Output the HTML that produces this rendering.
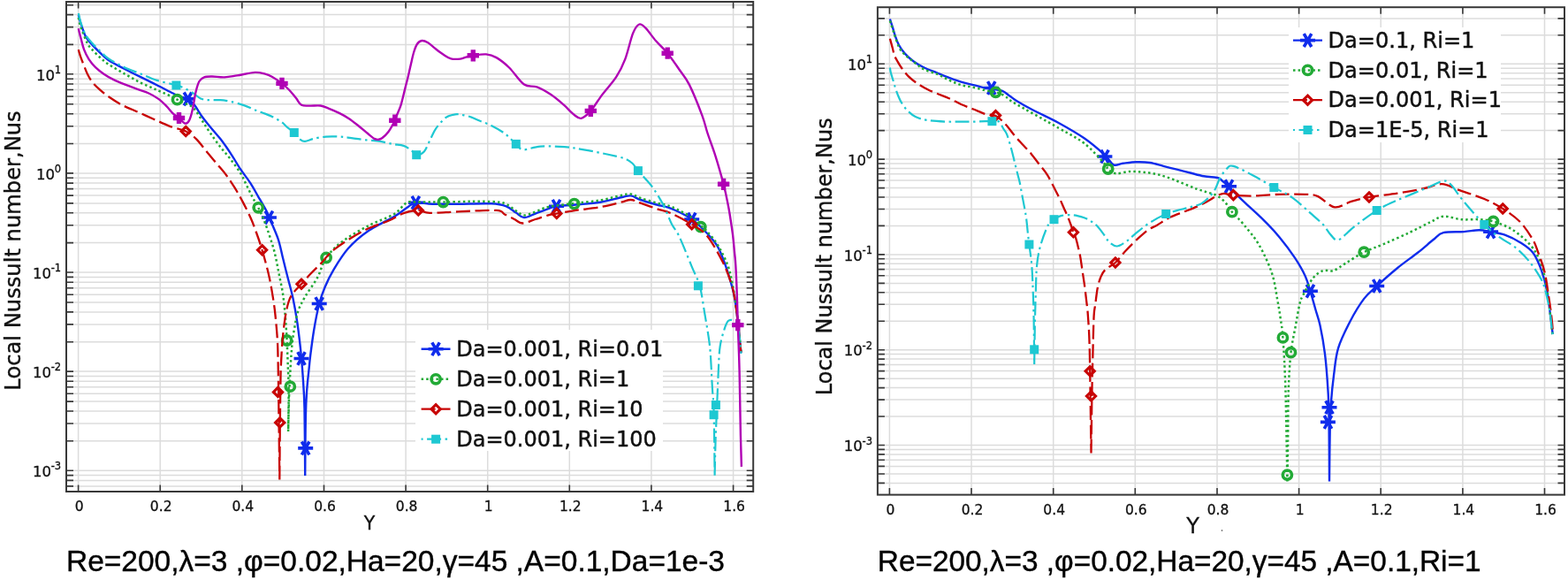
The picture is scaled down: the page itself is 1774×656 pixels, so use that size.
<!DOCTYPE html>
<html><head><meta charset="utf-8"><title>Local Nusselt number plots</title>
<style>html,body{margin:0;padding:0;background:#fff;overflow:hidden}svg{display:block}</style>
</head><body>
<svg width="1774" height="656" viewBox="0 0 1774 656">
<rect width="1774" height="656" fill="#fff"/>
<g stroke="#dcdcdc" stroke-width="1.5"><line x1="75" y1="549.9" x2="852.2" y2="549.9"/><line x1="75" y1="543.4" x2="852.2" y2="543.4"/><line x1="75" y1="537.6" x2="852.2" y2="537.6"/><line x1="75" y1="532.2" x2="852.2" y2="532.2"/><line x1="75" y1="498.8" x2="852.2" y2="498.8"/><line x1="75" y1="479" x2="852.2" y2="479"/><line x1="75" y1="465" x2="852.2" y2="465"/><line x1="75" y1="454.1" x2="852.2" y2="454.1"/><line x1="75" y1="445.3" x2="852.2" y2="445.3"/><line x1="75" y1="437.8" x2="852.2" y2="437.8"/><line x1="75" y1="431.3" x2="852.2" y2="431.3"/><line x1="75" y1="425.5" x2="852.2" y2="425.5"/><line x1="75" y1="420.1" x2="852.2" y2="420.1"/><line x1="75" y1="386.7" x2="852.2" y2="386.7"/><line x1="75" y1="366.9" x2="852.2" y2="366.9"/><line x1="75" y1="352.9" x2="852.2" y2="352.9"/><line x1="75" y1="342" x2="852.2" y2="342"/><line x1="75" y1="333.2" x2="852.2" y2="333.2"/><line x1="75" y1="325.7" x2="852.2" y2="325.7"/><line x1="75" y1="319.2" x2="852.2" y2="319.2"/><line x1="75" y1="313.4" x2="852.2" y2="313.4"/><line x1="75" y1="308" x2="852.2" y2="308"/><line x1="75" y1="274.6" x2="852.2" y2="274.6"/><line x1="75" y1="254.8" x2="852.2" y2="254.8"/><line x1="75" y1="240.8" x2="852.2" y2="240.8"/><line x1="75" y1="229.9" x2="852.2" y2="229.9"/><line x1="75" y1="221.1" x2="852.2" y2="221.1"/><line x1="75" y1="213.6" x2="852.2" y2="213.6"/><line x1="75" y1="207.1" x2="852.2" y2="207.1"/><line x1="75" y1="201.3" x2="852.2" y2="201.3"/><line x1="75" y1="195.9" x2="852.2" y2="195.9"/><line x1="75" y1="162.5" x2="852.2" y2="162.5"/><line x1="75" y1="142.7" x2="852.2" y2="142.7"/><line x1="75" y1="128.7" x2="852.2" y2="128.7"/><line x1="75" y1="117.8" x2="852.2" y2="117.8"/><line x1="75" y1="109" x2="852.2" y2="109"/><line x1="75" y1="101.5" x2="852.2" y2="101.5"/><line x1="75" y1="95" x2="852.2" y2="95"/><line x1="75" y1="89.2" x2="852.2" y2="89.2"/><line x1="75" y1="83.8" x2="852.2" y2="83.8"/><line x1="75" y1="50.4" x2="852.2" y2="50.4"/><line x1="75" y1="30.6" x2="852.2" y2="30.6"/><line x1="75" y1="16.6" x2="852.2" y2="16.6"/><line x1="75" y1="5.7" x2="852.2" y2="5.7"/><line x1="88.6" y1="2" x2="88.6" y2="556"/><line x1="181.2" y1="2" x2="181.2" y2="556"/><line x1="273.8" y1="2" x2="273.8" y2="556"/><line x1="366.5" y1="2" x2="366.5" y2="556"/><line x1="459.1" y1="2" x2="459.1" y2="556"/><line x1="551.7" y1="2" x2="551.7" y2="556"/><line x1="644.3" y1="2" x2="644.3" y2="556"/><line x1="736.9" y1="2" x2="736.9" y2="556"/><line x1="829.6" y1="2" x2="829.6" y2="556"/></g>
<clipPath id="cl"><rect x="75" y="2" width="777.2" height="554"/></clipPath>
<g clip-path="url(#cl)">
<path d="M88.8,17C89.2,18.6 90.1,22.7 91.5,26.8C92.9,30.9 94.9,37.5 97,41.5C99.1,45.5 101.6,47.6 104.3,50.6C107,53.6 110.4,56.9 113.4,59.8C116.5,62.7 118,65 122.6,68C127.2,71 134.8,74.8 140.9,78C147,81.2 153.1,84.2 159.2,87.2C165.3,90.2 171.4,93.2 177.5,96.3C183.6,99.3 191.4,103.4 195.7,105.5C200,107.6 200.3,108 203.1,109.1C205.9,110.2 209.8,110.4 212.5,111.9C215.2,113.4 216.9,115 219.6,118.3C222.3,121.6 225.7,127.8 228.7,132C231.7,136.2 234.4,139.2 237.8,143.4C241.2,147.6 245.5,152.2 249.3,157.1C253.1,162 256.9,167.4 260.7,173.1C264.5,178.8 268.3,185.7 272.1,191.4C275.9,197.1 280.1,202.1 283.5,207.4C286.9,212.7 289.6,218 292.7,223.3C295.8,228.6 299.7,235.2 301.8,239.3C303.9,243.4 303.4,242.9 305.5,248C307.6,253.1 312.1,262.8 314.5,269.8C316.9,276.8 317.8,282.7 319.6,290C321.4,297.3 323.5,305.9 325.5,313.8C327.5,321.7 329.7,328.9 331.5,337.5C333.3,346.1 335.1,356.6 336.4,365.2C337.7,373.8 338.6,382.4 339.4,389C340.2,395.6 340.5,398.9 341,404.9C341.5,410.9 342,415.5 342.6,425C343.2,434.5 344.1,443.2 344.5,462C344.9,480.8 345.1,525.3 345.2,538M345.2,538C345.3,526.7 345.5,486.3 345.9,470C346.2,453.7 346.7,448.4 347.3,440C347.9,431.6 348.6,426.4 349.3,419.9C350,413.4 350.3,408.7 351.3,400.9C352.3,393.1 353.6,382.8 355.2,373.2C356.8,363.6 359.1,351.6 361.2,343.5C363.3,335.4 365,331.1 367.6,324.8C370.2,318.5 372.6,313.1 377,305.8C381.4,298.6 387.1,288.8 393.7,281.3C400.3,273.9 408.2,267.1 416.9,261.1C425.6,255.1 438.6,249.4 445.8,245.1C453,240.8 456.2,237.7 460.3,235C464.4,232.3 465.6,229.9 470.4,229.2C475.2,228.5 481.2,230.4 489.2,230.7C497.2,230.9 507.1,230.8 518.2,230.7C529.3,230.6 546.7,229.9 555.8,230.3C564.9,230.7 568.1,231.6 572.8,233.3C577.5,235 580.4,238.5 583.8,240.6C587.1,242.7 589.2,245.9 592.9,246.1C596.5,246.3 601.1,243.3 605.7,241.6C610.3,239.9 616.4,237.5 620.4,236.1C624.4,234.7 624.3,234.1 629.5,233.3C634.7,232.5 643.3,232.3 651.5,231.5C659.7,230.7 670.4,230.1 678.9,228.7C687.4,227.3 696.9,224.5 702.7,223.3C708.5,222.1 710,221 713.7,221.4C717.4,221.8 719.8,224.3 724.7,226C729.6,227.7 737.1,229.8 743,231.5C748.9,233.2 753.4,233.3 760,236.1C766.6,238.8 776,243.3 782.7,248C789.4,252.7 795.3,258.9 800.1,264C804.9,269.1 808.4,273.1 811.6,278.4C814.8,283.7 816.8,289.4 819.3,296C821.8,302.6 824.6,311.5 826.6,318.3C828.6,325.1 829.7,329 831.1,336.6C832.5,344.2 833.6,353.6 834.8,364C836,374.4 837.8,393.2 838.4,399" stroke="#102cec" stroke-width="2.4" fill="none" stroke-linejoin="round"/>
<path d="M204,111.9L221,111.9M208.2,104.5L216.8,119.3M216.8,104.5L208.2,119.3" stroke="#102cec" stroke-width="3.6" fill="none"/>
<path d="M295.9,246L312.9,246M300.1,238.6L308.6,253.4M308.6,238.6L300.1,253.4" stroke="#102cec" stroke-width="3.6" fill="none"/>
<path d="M332.5,405.5L349.5,405.5M336.8,398.1L345.2,412.9M345.2,398.1L336.8,412.9" stroke="#102cec" stroke-width="3.6" fill="none"/>
<path d="M337.2,506.9L354.2,506.9M341.4,499.5L349.9,514.3M349.9,499.5L341.4,514.3" stroke="#102cec" stroke-width="3.6" fill="none"/>
<path d="M352.7,343.5L369.7,343.5M356.9,336.1L365.4,350.9M365.4,336.1L356.9,350.9" stroke="#102cec" stroke-width="3.6" fill="none"/>
<path d="M461.9,229.2L478.9,229.2M466.1,221.8L474.6,236.6M474.6,221.8L466.1,236.6" stroke="#102cec" stroke-width="3.6" fill="none"/>
<path d="M621,233.3L638,233.3M625.2,225.9L633.8,240.7M633.8,225.9L625.2,240.7" stroke="#102cec" stroke-width="3.6" fill="none"/>
<path d="M774.2,248L791.2,248M778.5,240.6L787,255.4M787,240.6L778.5,255.4" stroke="#102cec" stroke-width="3.6" fill="none"/>
<path d="M88.8,20C89.2,21.8 89.8,26.2 91.5,31C93.2,35.8 96.7,44.6 98.8,48.8C100.9,53 101.9,53.4 104.3,56.1C106.7,58.8 110.4,62.5 113.4,65.2C116.5,68 118,69.5 122.6,72.6C127.2,75.6 134.8,80 140.9,83.5C147,87 153.1,90.5 159.2,93.6C165.3,96.6 171.7,99.2 177.5,101.8C183.3,104.4 190.1,107.3 193.9,109.1C197.7,110.9 197.5,111.2 200.5,112.7C203.5,114.2 208.5,116.3 211.7,118C214.9,119.7 216.8,119.7 219.6,122.8C222.4,125.9 225.7,131.9 228.7,136.5C231.7,141.1 234.4,145.4 237.8,150.3C241.2,155.2 245.5,161.3 249.3,166.2C253.1,171.1 256.9,174.9 260.7,179.9C264.5,184.9 269.1,191 272.1,195.9C275.2,200.8 276.7,205 279,209.6C281.3,214.2 283.6,219.1 285.8,223.3C288,227.5 289.8,230 292.2,234.8C294.6,239.7 297.2,245.1 300,252.4C302.8,259.7 306.8,272.1 308.7,278.4C310.6,284.7 310.5,284.8 311.7,290C312.9,295.2 314.3,303.2 315.6,309.8C316.9,316.4 318.5,323 319.6,329.6C320.7,336.2 321.3,342.8 322,349.4C322.7,356 323.2,363.3 323.6,369.2C324,375.1 324.3,378.2 324.6,385C324.9,391.8 325.3,400.8 325.6,410C325.9,419.2 326.5,427 326.6,440C326.7,453 326.2,480 326.1,488M326.1,488C326.2,481.7 326.6,461.7 327,450C327.4,438.3 327.9,428.2 328.5,418C329.1,407.8 329.7,397.1 330.5,389C331.3,380.9 332.4,375.5 333.5,369.2C334.6,362.9 335.4,357 337.4,351.4C339.4,345.8 341.7,341.8 345.3,335.5C348.9,329.2 355.2,321.1 359.2,313.8C363.2,306.5 364.3,298.4 369.1,291.5C373.9,284.6 379.9,278.7 387.9,272.7C395.9,266.7 407.2,260.4 416.9,255.3C426.5,250.2 438.6,246.5 445.8,242.2C453,237.8 455.5,231.5 460.3,229.2C465.1,226.9 468,228.7 474.8,228.6C481.6,228.5 491.8,228.7 501.4,228.6C511,228.5 522.7,227.9 532.7,227.8C542.7,227.8 554.9,227.8 561.6,228.3C568.3,228.8 569.1,229.3 572.8,231C576.5,232.7 580.4,236.4 583.8,238.5C587.1,240.6 589.2,243.3 592.9,243.5C596.5,243.7 601.1,241.1 605.7,239.5C610.3,237.9 613.1,235.6 620.4,234C627.7,232.4 640,231.2 649.7,230C659.5,228.8 670.1,228 678.9,226.5C687.7,225 696.9,222.2 702.7,221C708.5,219.8 710,219 713.7,219.5C717.4,220 719.8,222.3 724.7,224C729.6,225.7 737.1,227.8 743,229.5C748.9,231.2 753.4,231.2 760,234C766.6,236.8 777.2,242.5 782.7,246C788.2,249.5 789.9,252.3 792.8,255C795.7,257.7 797,258.4 800.1,262C803.2,265.6 807.8,270.2 811.6,276.5C815.5,282.8 820.3,291.9 823.2,299.6C826.1,307.4 827.3,314.3 829,323C830.7,331.7 831.8,339.5 833.4,352C835,364.5 837.6,390.3 838.4,398" stroke="#22aa36" stroke-width="2.5" fill="none" stroke-linejoin="round" stroke-dasharray="2.5 3.1"/>
<circle cx="200.5" cy="112.7" r="5.1" stroke="#22aa36" stroke-width="3.6" fill="none"/>
<circle cx="292.2" cy="234.8" r="5.1" stroke="#22aa36" stroke-width="3.6" fill="none"/>
<circle cx="324.6" cy="385" r="5.1" stroke="#22aa36" stroke-width="3.6" fill="none"/>
<circle cx="328.3" cy="437.2" r="5.1" stroke="#22aa36" stroke-width="3.6" fill="none"/>
<circle cx="369.1" cy="291.5" r="5.1" stroke="#22aa36" stroke-width="3.6" fill="none"/>
<circle cx="501.4" cy="228.6" r="5.1" stroke="#22aa36" stroke-width="3.6" fill="none"/>
<circle cx="649.7" cy="230.6" r="5.1" stroke="#22aa36" stroke-width="3.6" fill="none"/>
<circle cx="792.8" cy="256.7" r="5.1" stroke="#22aa36" stroke-width="3.6" fill="none"/>
<path d="M88.7,56.1C89.2,57.6 90.4,62.2 91.5,65.2C92.6,68.2 93.9,71.4 95.1,74.4C96.3,77.5 97.3,80.5 98.8,83.5C100.3,86.5 101.9,89.7 104.3,92.7C106.7,95.8 110.4,99.1 113.4,101.8C116.5,104.5 118.6,106.3 122.6,109.1C126.6,111.8 131.7,115.4 137.2,118.3C142.7,121.2 149.4,123.8 155.5,126.5C161.6,129.2 167.7,132 173.8,134.7C179.9,137.4 186,140.5 192.1,142.8C198.2,145.1 205.2,146.1 210.2,148.5C215.2,150.9 218.1,153.4 221.9,157.1C225.8,160.8 229.5,166.2 233.3,170.8C237.1,175.4 240.9,179.9 244.7,184.5C248.5,189.1 252.7,193.6 256.1,198.2C259.5,202.8 262.2,206.9 265.3,211.9C268.4,216.9 271.4,222.2 274.4,227.9C277.4,233.6 280.9,240.3 283.5,246.2C286.1,252 287.8,256.9 290,263C292.2,269.1 294.3,275 296.6,282.8C298.9,290.6 302,302 303.8,309.8C305.6,317.6 306.6,323 307.7,329.6C308.8,336.2 309.9,342.8 310.7,349.4C311.5,356 312.1,362.6 312.7,369.2C313.3,375.8 313.8,382.2 314.1,389C314.4,395.8 314.4,399.8 314.6,410C314.8,420.2 314.9,427.9 315.2,450C315.5,472.1 316.1,527.1 316.3,542.5M316.3,542.5C316.4,532.1 316.6,497.1 316.8,480C317,462.9 317.1,450.8 317.3,440C317.5,429.2 317.4,424.2 317.8,415C318.2,405.8 318.8,394.3 319.6,385C320.4,375.7 321.5,366.6 322.6,359.3C323.8,352.1 325,346.1 326.5,341.5C328,336.9 329.1,335 331.5,331.6C333.9,328.2 337.7,324.9 341,321.3C344.3,317.7 347.6,313.7 351.3,309.8C355,305.9 358.6,302.6 363.2,297.9C367.8,293.1 371.2,287.4 379.2,281.3C387.2,275.2 401,266.4 411.1,261.1C421.2,255.8 432.3,252.9 440,249.5C447.7,246.1 451.8,242.7 457.4,240.8C462.9,238.9 468.5,237.9 473.3,237.9C478.1,237.9 478.8,240.6 486.3,240.8C493.8,241.1 505.7,239.9 518.2,239.4C530.8,238.9 552.8,237.4 561.6,237.9C570.4,238.4 567.6,240.8 571,242.5C574.4,244.2 578.6,246.3 582,248C585.4,249.7 587.1,252.5 591.1,252.5C595.1,252.5 600.8,249.5 605.7,248C610.6,246.5 616.4,244.5 620.4,243.4C624.4,242.3 624.3,242.5 629.5,241.6C634.7,240.7 643.3,239.1 651.5,237.9C659.7,236.7 670.4,235.7 678.9,234.2C687.4,232.7 696.9,230.1 702.7,228.7C708.5,227.3 710,225.8 713.7,226C717.4,226.2 719.8,228 724.7,229.7C729.6,231.4 737.1,234.1 743,236.1C748.9,238.1 753.4,238.6 760,241.6C766.6,244.6 776,249.6 782.7,253.8C789.4,258 794.3,259.9 800.1,266.9C805.9,273.9 813,287.2 817.4,295.8C821.8,304.4 824.3,311.5 826.6,318.3C828.9,325.1 829.7,329 831.1,336.6C832.5,344.2 833.6,353.6 834.8,364C836,374.4 837.8,392.9 838.4,398.7" stroke="#c80404" stroke-width="2.3" fill="none" stroke-linejoin="round" stroke-dasharray="16 5.5"/>
<path d="M210.2,143.4l5.1,5.1l-5.1,5.1l-5.1,-5.1z" stroke="#c80404" stroke-width="3.1" fill="none"/>
<path d="M296.6,277.7l5.1,5.1l-5.1,5.1l-5.1,-5.1z" stroke="#c80404" stroke-width="3.1" fill="none"/>
<path d="M314.5,438.3l5.1,5.1l-5.1,5.1l-5.1,-5.1z" stroke="#c80404" stroke-width="3.1" fill="none"/>
<path d="M316.7,472.8l5.1,5.1l-5.1,5.1l-5.1,-5.1z" stroke="#c80404" stroke-width="3.1" fill="none"/>
<path d="M341,316.2l5.1,5.1l-5.1,5.1l-5.1,-5.1z" stroke="#c80404" stroke-width="3.1" fill="none"/>
<path d="M473.3,232.8l5.1,5.1l-5.1,5.1l-5.1,-5.1z" stroke="#c80404" stroke-width="3.1" fill="none"/>
<path d="M629.8,236.3l5.1,5.1l-5.1,5.1l-5.1,-5.1z" stroke="#c80404" stroke-width="3.1" fill="none"/>
<path d="M782.7,248.7l5.1,5.1l-5.1,5.1l-5.1,-5.1z" stroke="#c80404" stroke-width="3.1" fill="none"/>
<path d="M88.8,15C89.2,16.8 90.1,21.8 91.5,25.9C92.9,30 94.9,35.8 97,39.6C99.1,43.4 101.6,45.8 104.3,48.8C107,51.8 110.4,55 113.4,57.9C116.5,60.8 118,63.2 122.6,66.2C127.2,69.2 134.8,73.3 140.9,76.2C147,79.1 153.1,81 159.2,83.5C165.3,86 170.8,88.8 177.5,90.9C184.2,93 194.2,94.8 199.4,96.3C204.6,97.8 205.3,98.1 208.6,99.7C211.9,101.3 216.2,103.8 219.3,105.8C222.4,107.8 224.2,110.3 227,111.5C229.8,112.7 232.3,112.9 236,113.2C239.7,113.5 245.2,112.9 249.3,113.2C253.4,113.5 256.1,113.8 260.7,114.8C265.3,115.8 271.8,117.7 276.7,119.4C281.6,121.1 286.5,123.6 290.4,125.1C294.3,126.6 296.9,127.4 300,128.6C303.1,129.8 306.1,131 309.1,132.5C312.2,134 315.5,135.8 318.3,137.8C321.1,139.8 323.5,142.7 325.9,144.7C328.3,146.7 330.5,147.8 332.8,150C335.1,152.2 337.6,156 339.6,157.7C341.6,159.3 342.4,160 345,159.9C347.6,159.8 351,157.8 354.9,156.9C358.8,156 363.8,155 368.6,154.6C373.4,154.2 379,154.3 383.8,154.6C388.6,154.8 392.5,155.5 397.6,156.1C402.7,156.7 408.9,157.8 414.3,158.4C419.7,159 425,159.1 430,159.9C435,160.7 440,162.2 444.4,163C448.8,163.8 453.2,163.8 456.6,164.9C460.1,166 462.7,168.1 465.1,169.8C467.5,171.5 468.8,174.9 471.2,175.2C473.6,175.5 477.1,174.5 479.8,171.5C482.5,168.5 484.9,161.3 487.1,157C489.3,152.7 490.4,149.4 493.2,145.4C496,141.4 500.5,135.9 504.1,133.2C507.8,130.5 511.8,129.8 515.1,129.3C518.4,128.8 520.7,129.6 523.7,130.1C526.8,130.6 530.7,131.7 533.4,132.6C536.1,133.5 536.3,134 540,135.6C543.7,137.2 550.6,139.3 555.8,141.9C561,144.5 566.3,147.5 571,151C575.7,154.5 580.3,159.8 583.8,162.9C587.3,166 587.4,168.9 592,169.3C596.6,169.8 603.4,166.1 611.2,165.6C619,165.1 630.5,165.6 638.7,166.2C646.9,166.8 652.4,167.9 660.6,169.3C668.8,170.7 680.5,173.1 688.1,174.8C695.7,176.5 701.8,177.6 706.4,179.3C711,181 712.9,182.5 715.5,184.8C718.1,187.1 719.4,190.2 721.9,193.1C724.4,196 727.3,198.8 730.2,202.2C733.1,205.5 735.9,208.3 739.3,213.2C742.6,218.1 746.8,224.8 750.3,231.5C753.8,238.2 757,247.5 760,253.4C763,259.3 764.4,258.9 768.2,266.9C772,274.9 778.8,292.1 782.7,301.6C786.6,311.1 789.4,314.9 791.8,323.8C794.2,332.7 795.8,346 797.3,354.8C798.8,363.6 799.9,369.5 801,376.8C802.1,384.1 802.9,388.4 803.7,398.7C804.5,409 805.2,427.8 805.9,438.9C806.5,450 807.1,448.8 807.6,465.3C808.1,481.8 808.4,525.7 808.6,537.8M808.6,537.8C808.8,531.5 809.1,512.1 809.5,500C809.9,487.9 810.3,479.1 810.9,465.3C811.5,451.5 812.3,429.3 812.9,417C813.5,404.7 813.6,398.7 814.7,391.4C815.8,384.1 817.8,377.8 819.3,373.1C820.8,368.4 822.1,364.9 823.8,363.1C825.5,361.3 827.6,361.8 829.3,362.2C831,362.6 832.7,362.8 833.9,365.8C835.1,368.8 835.8,374.3 836.5,380C837.2,385.7 838.1,396.7 838.4,400" stroke="#1ec8d2" stroke-width="2.2" fill="none" stroke-linejoin="round" stroke-dasharray="16 4.5 2.5 4.5"/>
<rect x="194.4" y="91.5" width="10" height="10" fill="#1ec8d2"/>
<rect x="327.8" y="145" width="10" height="10" fill="#1ec8d2"/>
<rect x="466.2" y="170.2" width="10" height="10" fill="#1ec8d2"/>
<rect x="578.8" y="157.9" width="10" height="10" fill="#1ec8d2"/>
<rect x="716.9" y="188.1" width="10" height="10" fill="#1ec8d2"/>
<rect x="784.9" y="318.3" width="10" height="10" fill="#1ec8d2"/>
<rect x="804.9" y="453" width="10" height="10" fill="#1ec8d2"/>
<rect x="802.6" y="464.2" width="10" height="10" fill="#1ec8d2"/>
<path d="M88.7,32.3C89.2,34.1 90.4,39.3 91.5,43.3C92.6,47.3 93.6,52.1 95.1,56.1C96.6,60.1 98.4,63.7 100.6,67.1C102.8,70.4 105.2,73.5 108,76.2C110.8,78.9 113.8,81.2 117.1,83.5C120.4,85.8 124.1,87.9 128.1,89.9C132.1,91.9 136.3,93.6 140.9,95.4C145.5,97.2 150.9,99.2 155.5,100.9C160.1,102.6 164.3,103.7 168.3,105.5C172.3,107.3 176,109.5 179.3,111.9C182.7,114.3 185.7,117.4 188.4,120.1C191.1,122.8 193.3,126.1 195.7,128.3C198,130.5 200.3,131.6 202.5,133.5C204.7,135.4 207.1,139 209,139.5C210.9,140 212.5,138.9 214,136.3C215.5,133.7 216.6,129.5 217.8,124.1C219.1,118.7 220.2,109.3 221.5,104C222.8,98.7 223.8,94.8 225.4,92C227,89.2 228.6,88.2 231,87.3C233.4,86.4 236.2,86.5 240,86.5C243.8,86.5 249,87.6 253.7,87.4C258.4,87.2 262.4,86.3 268.2,85.4C274,84.5 283.2,82.2 288.5,81.9C293.8,81.6 296.8,82.9 300,83.7C303.2,84.5 304.4,85 307.6,86.8C310.8,88.6 315.7,91.9 319,94.4C322.3,96.9 324.7,99.2 327.4,102C330.1,104.8 332.7,108.3 335,111.1C337.3,113.9 338.4,117.4 341.1,118.8C343.8,120.2 347.4,119.5 351,119.6C354.6,119.7 359.1,119 362.5,119.5C365.9,120 368.1,121.2 371.6,122.6C375.2,124 380,126 383.8,127.9C387.6,129.8 390.7,131.4 394.5,134C398.3,136.6 403.1,140.4 406.7,143.2C410.2,146 413,148.5 415.8,150.8C418.6,153.1 421.5,155.7 423.5,156.9C425.5,158.1 426.6,157.9 428,157.8C429.4,157.7 430.3,157.8 432.2,156.3C434.1,154.8 437.1,152.3 439.5,149C441.9,145.7 445.2,139.4 446.8,136.2C448.4,133 448,133 449.1,130C450.2,127 452.2,123.4 453.7,118.4C455.2,113.4 456.9,105.7 458.3,100.1C459.7,94.5 461,89.7 462.1,84.9C463.2,80.1 464.2,75.5 465.2,71.2C466.2,66.9 467.1,62.6 468.2,59C469.3,55.4 470.5,52 472,49.8C473.5,47.6 475.3,46.2 477.3,46C479.3,45.8 481.8,46.9 484.2,48.3C486.6,49.7 489,52.2 491.8,54.4C494.6,56.6 497.9,59.3 501,61.3C504.1,63.3 506.8,65.4 510.1,66.3C513.4,67.2 517.8,66.9 520.8,66.6C523.8,66.3 526,64.9 528.4,64.3C530.8,63.7 531.7,63.3 535.3,62.8C538.9,62.3 545.6,61 550,61.4C554.4,61.8 557.2,62.6 561.6,65.1C566,67.6 570.9,71.4 576.1,76.5C581.3,81.6 587.8,91.9 593,95.6C598.2,99.2 602.4,96.5 607.5,98.4C612.6,100.3 618.3,103.7 623.4,107.1C628.5,110.5 633.5,114.9 637.9,118.7C642.2,122.5 646.2,127.2 649.5,129.7C652.8,132.2 654.5,134.5 657.6,133.8C660.7,133.1 664.3,129.9 668.3,125.4C672.2,121 676.5,113.5 681.3,107.1C686.1,100.7 692.9,93.7 697.3,86.9C701.6,80.2 704.3,74.8 707.4,66.6C710.5,58.4 713.5,44.1 716.1,37.6C718.8,31.1 720.9,28.4 723.3,27.5C725.7,26.6 727.5,28.8 730.6,31.9C733.7,35 738,41.6 742.1,46.3C746.2,51 750.9,54.9 755.2,60.2C759.6,65.5 764.1,72.3 768.2,78.2C772.3,84.1 775.4,86.9 779.8,95.6C784.1,104.3 790.9,121.2 794.3,130.3C797.7,139.4 798,142.9 800.3,150C802.6,157.1 805.8,165.3 808.3,172.9C810.8,180.5 813.5,189.9 815.2,195.8C816.9,201.7 817.5,203.7 818.6,208.3C819.7,212.9 820.9,217.7 822,223.2C823.1,228.7 824.4,234.6 825.5,241.5C826.6,248.4 827.9,256.8 828.9,264.4C829.9,272 830.6,281.4 831.2,287.3C831.8,293.2 831.8,291.8 832.3,300C832.8,308.2 833.5,325.3 833.9,336.6C834.3,347.9 834.5,358.5 834.8,367.6C835.1,376.7 835.4,382.7 835.7,391.4C836,400.1 836.2,403.3 836.6,420C837,436.7 837.5,473.7 837.9,491.7C838.3,509.7 838.7,521.9 838.9,527.9" stroke="#b000b4" stroke-width="2.4" fill="none" stroke-linejoin="round"/>
<path d="M199.8,126.9h5.4v13.2h-5.4zM195.8,130.8h13.4v5.4h-13.4z" fill="#b000b4"/>
<path d="M316.3,87.8h5.4v13.2h-5.4zM312.3,91.7h13.4v5.4h-13.4z" fill="#b000b4"/>
<path d="M444.1,129.6h5.4v13.2h-5.4zM440.1,133.5h13.4v5.4h-13.4z" fill="#b000b4"/>
<path d="M532.6,56.2h5.4v13.2h-5.4zM528.6,60.1h13.4v5.4h-13.4z" fill="#b000b4"/>
<path d="M665.6,118.8h5.4v13.2h-5.4zM661.6,122.7h13.4v5.4h-13.4z" fill="#b000b4"/>
<path d="M752.5,53.6h5.4v13.2h-5.4zM748.5,57.5h13.4v5.4h-13.4z" fill="#b000b4"/>
<path d="M815.9,201.7h5.4v13.2h-5.4zM811.9,205.6h13.4v5.4h-13.4z" fill="#b000b4"/>
<path d="M832.1,361h5.4v13.2h-5.4zM828.1,364.9h13.4v5.4h-13.4z" fill="#b000b4"/>
</g>
<rect x="470" y="373" width="280" height="137" fill="#fff"/>
<path d="M476.6,394.8H509.5" stroke="#102cec" stroke-width="2.4"/>
<path d="M484.6,394.8L501.6,394.8M488.8,387.4L497.3,402.2M497.3,387.4L488.8,402.2" stroke="#102cec" stroke-width="3.6" fill="none"/>
<text x="516.2" y="403" font-family="DejaVu Sans, sans-serif" font-size="24" fill="#111" stroke="#111" stroke-width="0.45">Da=0.001, Ri=0.01</text>
<path d="M476.6,428.8H509.5" stroke="#22aa36" stroke-width="2.5" stroke-dasharray="2.5 3.1"/>
<circle cx="493.1" cy="428.8" r="5.1" stroke="#22aa36" stroke-width="3.6" fill="none"/>
<text x="516.2" y="436.9" font-family="DejaVu Sans, sans-serif" font-size="24" fill="#111" stroke="#111" stroke-width="0.45">Da=0.001, Ri=1</text>
<path d="M476.6,462.7H509.5" stroke="#c80404" stroke-width="2.3" stroke-dasharray="16 5.5"/>
<path d="M493.1,457.6l5.1,5.1l-5.1,5.1l-5.1,-5.1z" stroke="#c80404" stroke-width="3.1" fill="none"/>
<text x="516.2" y="470.9" font-family="DejaVu Sans, sans-serif" font-size="24" fill="#111" stroke="#111" stroke-width="0.45">Da=0.001, Ri=10</text>
<path d="M476.6,496.7H509.5" stroke="#1ec8d2" stroke-width="2.2" stroke-dasharray="16 4.5 2.5 4.5" stroke-dashoffset="21"/>
<rect x="488.1" y="491.7" width="10" height="10" fill="#1ec8d2"/>
<text x="516.2" y="504.9" font-family="DejaVu Sans, sans-serif" font-size="24" fill="#111" stroke="#111" stroke-width="0.45">Da=0.001, Ri=100</text>
<path d="M75,549.9h8M852.2,549.9h-7.5M75,543.4h8M852.2,543.4h-7.5M75,537.6h8M852.2,537.6h-7.5M75,532.2h8M852.2,532.2h-7.5M75,498.8h8M852.2,498.8h-7.5M75,479h8M852.2,479h-7.5M75,465h8M852.2,465h-7.5M75,454.1h8M852.2,454.1h-7.5M75,445.3h8M852.2,445.3h-7.5M75,437.8h8M852.2,437.8h-7.5M75,431.3h8M852.2,431.3h-7.5M75,425.5h8M852.2,425.5h-7.5M75,420.1h8M852.2,420.1h-7.5M75,386.7h8M852.2,386.7h-7.5M75,366.9h8M852.2,366.9h-7.5M75,352.9h8M852.2,352.9h-7.5M75,342h8M852.2,342h-7.5M75,333.2h8M852.2,333.2h-7.5M75,325.7h8M852.2,325.7h-7.5M75,319.2h8M852.2,319.2h-7.5M75,313.4h8M852.2,313.4h-7.5M75,308h8M852.2,308h-7.5M75,274.6h8M852.2,274.6h-7.5M75,254.8h8M852.2,254.8h-7.5M75,240.8h8M852.2,240.8h-7.5M75,229.9h8M852.2,229.9h-7.5M75,221.1h8M852.2,221.1h-7.5M75,213.6h8M852.2,213.6h-7.5M75,207.1h8M852.2,207.1h-7.5M75,201.3h8M852.2,201.3h-7.5M75,195.9h8M852.2,195.9h-7.5M75,162.5h8M852.2,162.5h-7.5M75,142.7h8M852.2,142.7h-7.5M75,128.7h8M852.2,128.7h-7.5M75,117.8h8M852.2,117.8h-7.5M75,109h8M852.2,109h-7.5M75,101.5h8M852.2,101.5h-7.5M75,95h8M852.2,95h-7.5M75,89.2h8M852.2,89.2h-7.5M75,83.8h8M852.2,83.8h-7.5M75,50.4h8M852.2,50.4h-7.5M75,30.6h8M852.2,30.6h-7.5M75,16.6h8M852.2,16.6h-7.5M75,5.7h8M852.2,5.7h-7.5M88.6,556v-7.5M88.6,2v7.5M181.2,556v-7.5M181.2,2v7.5M273.8,556v-7.5M273.8,2v7.5M366.5,556v-7.5M366.5,2v7.5M459.1,556v-7.5M459.1,2v7.5M551.7,556v-7.5M551.7,2v7.5M644.3,556v-7.5M644.3,2v7.5M736.9,556v-7.5M736.9,2v7.5M829.6,556v-7.5M829.6,2v7.5" stroke="#383838" stroke-width="1.6" fill="none"/>
<rect x="75" y="2" width="777.2" height="554" fill="none" stroke="#383838" stroke-width="2"/>
<g font-family="DejaVu Sans, sans-serif" fill="#111" stroke="#111" stroke-width="0.3"><text x="89.6" y="578" text-anchor="middle" font-size="15.5">0</text><text x="182.2" y="578" text-anchor="middle" font-size="15.5">0.2</text><text x="274.8" y="578" text-anchor="middle" font-size="15.5">0.4</text><text x="367.5" y="578" text-anchor="middle" font-size="15.5">0.6</text><text x="460.1" y="578" text-anchor="middle" font-size="15.5">0.8</text><text x="552.7" y="578" text-anchor="middle" font-size="15.5">1</text><text x="645.3" y="578" text-anchor="middle" font-size="15.5">1.2</text><text x="737.9" y="578" text-anchor="middle" font-size="15.5">1.4</text><text x="830.6" y="578" text-anchor="middle" font-size="15.5">1.6</text><text x="62.1" y="90.5" text-anchor="end" font-size="16.5">10</text><text x="69.2" y="82.8" text-anchor="end" font-size="11.5">1</text><text x="62.1" y="202.6" text-anchor="end" font-size="16.5">10</text><text x="69.2" y="194.9" text-anchor="end" font-size="11.5">0</text><text x="57.9" y="314.7" text-anchor="end" font-size="16.5">10</text><text x="69.2" y="307" text-anchor="end" font-size="11.5">-1</text><text x="57.9" y="426.8" text-anchor="end" font-size="16.5">10</text><text x="69.2" y="419.1" text-anchor="end" font-size="11.5">-2</text><text x="57.9" y="538.9" text-anchor="end" font-size="16.5">10</text><text x="69.2" y="531.2" text-anchor="end" font-size="11.5">-3</text></g>
<text transform="translate(23,283.5) rotate(-90)" text-anchor="middle" font-family="DejaVu Sans, sans-serif" font-size="24.2" fill="#111" stroke="#111" stroke-width="0.4">Local Nussult number,Nus</text>
<text x="418" y="599.2" text-anchor="middle" font-family="DejaVu Sans, sans-serif" font-size="20.5" fill="#111" stroke="#111" stroke-width="0.3">Y</text>
<g stroke="#dcdcdc" stroke-width="1.5"><line x1="992.9" y1="546.4" x2="1770" y2="546.4"/><line x1="992.9" y1="536" x2="1770" y2="536"/><line x1="992.9" y1="527.4" x2="1770" y2="527.4"/><line x1="992.9" y1="520.2" x2="1770" y2="520.2"/><line x1="992.9" y1="513.9" x2="1770" y2="513.9"/><line x1="992.9" y1="508.4" x2="1770" y2="508.4"/><line x1="992.9" y1="503.5" x2="1770" y2="503.5"/><line x1="992.9" y1="471" x2="1770" y2="471"/><line x1="992.9" y1="452.1" x2="1770" y2="452.1"/><line x1="992.9" y1="438.6" x2="1770" y2="438.6"/><line x1="992.9" y1="428.2" x2="1770" y2="428.2"/><line x1="992.9" y1="419.6" x2="1770" y2="419.6"/><line x1="992.9" y1="412.4" x2="1770" y2="412.4"/><line x1="992.9" y1="406.1" x2="1770" y2="406.1"/><line x1="992.9" y1="400.6" x2="1770" y2="400.6"/><line x1="992.9" y1="395.7" x2="1770" y2="395.7"/><line x1="992.9" y1="363.2" x2="1770" y2="363.2"/><line x1="992.9" y1="344.3" x2="1770" y2="344.3"/><line x1="992.9" y1="330.8" x2="1770" y2="330.8"/><line x1="992.9" y1="320.4" x2="1770" y2="320.4"/><line x1="992.9" y1="311.8" x2="1770" y2="311.8"/><line x1="992.9" y1="304.6" x2="1770" y2="304.6"/><line x1="992.9" y1="298.3" x2="1770" y2="298.3"/><line x1="992.9" y1="292.8" x2="1770" y2="292.8"/><line x1="992.9" y1="287.9" x2="1770" y2="287.9"/><line x1="992.9" y1="255.4" x2="1770" y2="255.4"/><line x1="992.9" y1="236.5" x2="1770" y2="236.5"/><line x1="992.9" y1="223" x2="1770" y2="223"/><line x1="992.9" y1="212.6" x2="1770" y2="212.6"/><line x1="992.9" y1="204" x2="1770" y2="204"/><line x1="992.9" y1="196.8" x2="1770" y2="196.8"/><line x1="992.9" y1="190.5" x2="1770" y2="190.5"/><line x1="992.9" y1="185" x2="1770" y2="185"/><line x1="992.9" y1="180.1" x2="1770" y2="180.1"/><line x1="992.9" y1="147.6" x2="1770" y2="147.6"/><line x1="992.9" y1="128.7" x2="1770" y2="128.7"/><line x1="992.9" y1="115.2" x2="1770" y2="115.2"/><line x1="992.9" y1="104.8" x2="1770" y2="104.8"/><line x1="992.9" y1="96.2" x2="1770" y2="96.2"/><line x1="992.9" y1="89" x2="1770" y2="89"/><line x1="992.9" y1="82.7" x2="1770" y2="82.7"/><line x1="992.9" y1="77.2" x2="1770" y2="77.2"/><line x1="992.9" y1="72.3" x2="1770" y2="72.3"/><line x1="992.9" y1="39.8" x2="1770" y2="39.8"/><line x1="992.9" y1="20.9" x2="1770" y2="20.9"/><line x1="1006.4" y1="8.2" x2="1006.4" y2="559.6"/><line x1="1099" y1="8.2" x2="1099" y2="559.6"/><line x1="1191.7" y1="8.2" x2="1191.7" y2="559.6"/><line x1="1284.3" y1="8.2" x2="1284.3" y2="559.6"/><line x1="1377" y1="8.2" x2="1377" y2="559.6"/><line x1="1469.6" y1="8.2" x2="1469.6" y2="559.6"/><line x1="1562.2" y1="8.2" x2="1562.2" y2="559.6"/><line x1="1654.9" y1="8.2" x2="1654.9" y2="559.6"/><line x1="1747.5" y1="8.2" x2="1747.5" y2="559.6"/></g>
<clipPath id="cr"><rect x="992.9" y="8.2" width="777.1" height="551.4"/></clipPath>
<g clip-path="url(#cr)">
<path d="M1006.9,21.5C1007.4,23.1 1008.9,27.7 1009.9,30.9C1010.9,34.1 1011.7,37.5 1012.9,40.8C1014.1,44.1 1015.1,47.4 1016.9,50.7C1018.7,54 1021,57.5 1023.8,60.6C1026.6,63.7 1030.1,66.8 1033.7,69.5C1037.3,72.2 1041.2,74.4 1045.6,76.5C1050,78.6 1055.3,80.4 1060,82.3C1064.7,84.2 1069.1,86.1 1073.7,87.8C1078.3,89.5 1082.8,91.2 1087.4,92.6C1092,94 1096.6,94.9 1101.2,96.1C1105.8,97.2 1111.5,98.8 1114.9,99.5C1118.3,100.2 1118.5,99.9 1121.7,100.5C1124.9,101.1 1130.7,101.6 1134.1,102.9C1137.5,104.2 1139.6,106.6 1142.3,108.4C1145,110.2 1145.6,111.2 1150,113.9C1154.4,116.6 1160.8,120.3 1168.7,124.5C1176.7,128.7 1188.1,133.7 1197.7,139C1207.3,144.3 1217.9,150.3 1226.6,156.3C1235.3,162.3 1244.3,170.2 1249.8,175.2C1255.3,180.2 1256.3,184.7 1259.8,186.3C1263.2,187.9 1266.2,185.3 1270.5,184.8C1274.8,184.3 1280.6,183.4 1285.7,183.3C1290.8,183.2 1295.9,183.2 1301,184C1306.1,184.8 1311.1,186.6 1316.2,187.9C1321.3,189.2 1326.3,190.4 1331.4,191.7C1336.5,193 1341.6,194.2 1346.7,195.5C1351.8,196.8 1357.1,198.4 1361.9,199.3C1366.7,200.2 1372.5,200.3 1375.6,200.8C1378.6,201.3 1377.8,200.6 1380.2,202.3C1382.6,204 1385.3,206.7 1389.8,211C1394.3,215.3 1400.3,221.5 1407.1,227.9C1413.8,234.3 1423.5,242.8 1430.3,249.6C1437.1,256.3 1441.9,261.4 1447.7,268.4C1453.5,275.4 1460.2,284.4 1465,291.6C1469.8,298.9 1473.7,305.6 1476.6,311.9C1479.5,318.2 1480.5,322.9 1482.4,329.2C1484.3,335.5 1486.4,343 1488.2,349.5C1490,356 1491.7,359.5 1493.5,368C1495.3,376.5 1497.5,388.2 1499,400.3C1500.5,412.4 1501.7,429 1502.4,440.6C1503.2,452.2 1503.2,452.7 1503.5,470C1503.8,487.3 1503.9,532.1 1504,544.5M1504,544.5C1504.1,533.8 1504.5,494.5 1504.8,480C1505.1,465.5 1505,466.7 1505.7,457.3C1506.4,447.9 1507.7,434.4 1509.1,423.8C1510.5,413.2 1511,403.7 1514.1,393.6C1517.2,383.6 1522.7,372.8 1527.5,363.5C1532.3,354.2 1538.2,344.6 1543.2,337.9C1548.2,331.2 1551.4,329.3 1557.7,323.5C1564,317.7 1573.2,309.5 1580.9,303.2C1588.6,296.9 1597.2,291.1 1604,285.8C1610.8,280.5 1616.6,275.1 1621.4,271.3C1626.2,267.5 1627.2,264.7 1633,263.2C1638.8,261.7 1649.3,262.6 1656.1,262.1C1662.8,261.6 1668.4,260.3 1673.5,260.3C1678.6,260.3 1681.8,261.2 1686.6,262.1C1691.4,263 1697,263.6 1702.5,265.6C1708,267.6 1714.6,270.8 1719.9,274.2C1725.2,277.6 1730.3,280.6 1734.3,285.8C1738.3,291 1741.2,298.3 1743.9,305.6C1746.6,312.9 1748.5,319.9 1750.3,329.4C1752.1,338.8 1753.7,354.2 1754.8,362.3C1755.9,370.4 1756.4,375.4 1756.7,378" stroke="#102cec" stroke-width="2.4" fill="none" stroke-linejoin="round"/>
<path d="M1113.2,99.5L1130.2,99.5M1117.5,92.1L1126,106.9M1126,92.1L1117.5,106.9" stroke="#102cec" stroke-width="3.6" fill="none"/>
<path d="M1241.4,177L1258.4,177M1245.7,169.6L1254.2,184.4M1254.2,169.6L1245.7,184.4" stroke="#102cec" stroke-width="3.6" fill="none"/>
<path d="M1382,210.7L1399,210.7M1386.2,203.3L1394.8,218.1M1394.8,203.3L1386.2,218.1" stroke="#102cec" stroke-width="3.6" fill="none"/>
<path d="M1473.9,329.2L1490.9,329.2M1478.2,321.8L1486.7,336.6M1486.7,321.8L1478.2,336.6" stroke="#102cec" stroke-width="3.6" fill="none"/>
<path d="M1495.5,460.7L1512.5,460.7M1499.8,453.3L1508.2,468.1M1508.2,453.3L1499.8,468.1" stroke="#102cec" stroke-width="3.6" fill="none"/>
<path d="M1493.9,477.4L1510.9,477.4M1498.2,470L1506.7,484.8M1506.7,470L1498.2,484.8" stroke="#102cec" stroke-width="3.6" fill="none"/>
<path d="M1549.2,323.5L1566.2,323.5M1553.5,316.1L1562,330.9M1562,316.1L1553.5,330.9" stroke="#102cec" stroke-width="3.6" fill="none"/>
<path d="M1678.1,262.1L1695.1,262.1M1682.3,254.7L1690.8,269.5M1690.8,254.7L1682.3,269.5" stroke="#102cec" stroke-width="3.6" fill="none"/>
<path d="M1006.9,23.5C1007.7,26.1 1010.1,33.6 1011.9,38.8C1013.7,44 1015.5,50.6 1017.8,54.7C1020.1,58.8 1022.8,60.8 1025.8,63.6C1028.8,66.4 1032.4,69 1035.7,71.5C1039,74 1041.5,76.5 1045.6,78.5C1049.6,80.5 1055.3,81.7 1060,83.7C1064.7,85.7 1069.1,88.5 1073.7,90.6C1078.3,92.7 1082.8,94.7 1087.4,96.1C1092,97.5 1096.6,97.8 1101.2,98.8C1105.8,99.8 1110.7,101.3 1114.9,102.2C1119.1,103.1 1122.8,103.3 1126.5,104.3C1130.2,105.3 1133.2,106.4 1136.8,108.4C1140.3,110.5 1137.6,110.5 1147.8,116.6C1158,122.7 1184.6,137.2 1197.7,144.8C1210.8,152.4 1217.9,155.3 1226.6,162.1C1235.3,168.8 1245.3,180.4 1249.8,185.3C1254.3,190.2 1251.5,189.9 1253.7,191.7C1255.9,193.5 1258.8,195.8 1262.9,196.2C1267,196.6 1273,194.2 1278.1,194C1283.2,193.8 1288.2,194.2 1293.3,194.7C1298.4,195.2 1303.5,195.8 1308.6,197C1313.7,198.2 1318.7,199.8 1323.8,201.6C1328.9,203.4 1333.9,205.7 1339,207.7C1344.1,209.7 1349.7,212.2 1354.3,213.8C1358.9,215.5 1362.7,216.3 1366.5,217.6C1370.3,218.9 1373.8,219.5 1377.1,221.4C1380.4,223.3 1383.5,225.9 1386.3,229C1389.1,232.1 1390.4,235.5 1393.9,239.7C1397.4,243.9 1402,247.8 1407.1,254C1412.2,260.2 1419.2,267.9 1424.5,277.1C1429.8,286.3 1435.5,298.5 1439,309C1442.5,319.5 1443.8,331.5 1445.4,340C1447,348.5 1447.7,353.1 1448.7,360.1C1449.7,367.1 1450.5,368.5 1451.4,381.9C1452.4,395.3 1453.6,413.5 1454.4,440.6C1455.2,467.7 1456.1,527.2 1456.4,544.5M1456.4,544.5C1456.5,537.1 1456.9,517.3 1457.1,500C1457.3,482.7 1457.2,457.5 1457.8,440.6C1458.4,423.7 1459.2,410.4 1460.5,398.7C1461.8,387 1463.8,379.4 1465.5,370.2C1467.2,361 1469.1,349.3 1470.5,343.4C1471.9,337.5 1471.2,339.8 1473.7,335C1476.2,330.2 1481.4,319.6 1485.3,314.8C1489.2,310 1493,307.6 1496.9,306.1C1500.8,304.7 1504.2,307.6 1508.5,306.1C1512.8,304.7 1517.2,300.9 1523,297.4C1528.8,293.9 1536,288.8 1543.2,285.2C1550.4,281.6 1557.7,279.4 1566.4,275.7C1575.1,271.9 1586.6,266.8 1595.3,262.7C1604,258.6 1612.2,254.1 1618.5,251.1C1624.8,248.1 1627.2,245.2 1633,244.7C1638.8,244.2 1646.5,247.6 1653.3,248.2C1660,248.8 1667.5,247.8 1673.5,248.2C1679.5,248.6 1683.2,248.6 1689.5,250.5C1695.8,252.4 1704.2,255.4 1711.2,259.8C1718.2,264.2 1726.3,271.3 1731.4,277.1C1736.5,282.9 1739.2,288.3 1742,294.6C1744.8,300.9 1746.2,306.8 1748,315C1749.8,323.2 1751.1,333.2 1752.5,343.7C1753.9,354.2 1755.8,372.3 1756.5,378" stroke="#22aa36" stroke-width="2.5" fill="none" stroke-linejoin="round" stroke-dasharray="2.5 3.1"/>
<circle cx="1126.5" cy="104.3" r="5.1" stroke="#22aa36" stroke-width="3.6" fill="none"/>
<circle cx="1253.7" cy="191" r="5.1" stroke="#22aa36" stroke-width="3.6" fill="none"/>
<circle cx="1393.9" cy="239.7" r="5.1" stroke="#22aa36" stroke-width="3.6" fill="none"/>
<circle cx="1451.4" cy="381.9" r="5.1" stroke="#22aa36" stroke-width="3.6" fill="none"/>
<circle cx="1460.5" cy="398.7" r="5.1" stroke="#22aa36" stroke-width="3.6" fill="none"/>
<circle cx="1456.4" cy="537.1" r="5.1" stroke="#22aa36" stroke-width="3.6" fill="none"/>
<circle cx="1543.2" cy="285.2" r="5.1" stroke="#22aa36" stroke-width="3.6" fill="none"/>
<circle cx="1689.5" cy="250.5" r="5.1" stroke="#22aa36" stroke-width="3.6" fill="none"/>
<path d="M1006.9,43.8C1007.4,45.6 1009.1,51.6 1009.9,54.7C1010.7,57.8 1011.1,60.3 1011.9,62.6C1012.7,64.9 1013.6,66.2 1014.9,68.5C1016.2,70.8 1017.6,73.5 1019.8,76.5C1021.9,79.5 1024.8,83.4 1027.8,86.4C1030.8,89.4 1034.1,91.8 1037.7,94.3C1041.3,96.8 1045.9,99.4 1049.6,101.3C1053.3,103.2 1056,104 1060,105.7C1064,107.4 1069.1,109.2 1073.7,111.2C1078.3,113.2 1082.8,116 1087.4,118C1092,120 1096.6,121.7 1101.2,123.5C1105.8,125.3 1110.7,127.8 1114.9,129C1119.1,130.2 1122.7,129 1126.5,131C1130.3,133 1134.4,137.2 1138,141C1141.6,144.8 1145.1,150.1 1148.3,153.8C1151.5,157.6 1154,160.2 1157,163.5C1160,166.8 1163.5,170.2 1166.6,173.9C1169.7,177.6 1172.5,181.6 1175.5,185.5C1178.5,189.4 1181.7,192.7 1184.8,197.6C1187.9,202.5 1191.6,210.4 1194,215C1196.4,219.6 1197.5,221.7 1199.1,225C1200.7,228.3 1201.9,231.4 1203.4,234.8C1204.9,238.2 1206.9,242.2 1208.3,245.7C1209.7,249.1 1211,252.7 1212,255.5C1213,258.4 1213.5,260.4 1214.4,262.8C1215.3,265.2 1216.5,267.2 1217.4,270.1C1218.3,273 1219.1,276.4 1219.9,279.9C1220.7,283.4 1221.6,287 1222.3,290.9C1223,294.8 1223.4,298.1 1224.1,303C1224.8,307.9 1225.8,314.1 1226.7,320.4C1227.6,326.7 1228.5,334.5 1229.2,340.6C1229.9,346.8 1230.3,347.9 1230.9,357.3C1231.5,366.7 1232.2,371.1 1232.8,397C1233.4,422.9 1234.2,493.3 1234.5,512.6M1234.5,512.6C1234.7,500.5 1235.2,459.3 1235.5,440C1235.8,420.7 1236.2,410.8 1236.5,397C1236.8,383.2 1237.1,366.2 1237.6,357.3C1238.1,348.4 1238.6,349.2 1239.3,343.9C1240,338.6 1240.8,330.5 1241.8,325.5C1242.8,320.5 1243.8,317.1 1245.2,313.7C1246.6,310.3 1247.4,308.1 1250.2,305.3C1253,302.5 1258,300.6 1261.9,297C1265.8,293.4 1269.5,288 1273.7,283.5C1277.9,279 1282.9,274 1287.1,270.1C1291.3,266.2 1295.2,262.6 1298.8,260.1C1302.4,257.6 1304.4,257.3 1308.6,254.9C1312.8,252.5 1318.7,248.3 1323.8,245.8C1328.9,243.3 1333.9,241.7 1339,239.7C1344.1,237.7 1349.7,235.6 1354.3,233.6C1358.9,231.6 1362.7,229.5 1366.5,227.5C1370.3,225.5 1374,222.8 1377.1,221.4C1380.1,220 1381.7,218.9 1384.8,218.8C1387.9,218.7 1389.9,220.4 1395.6,220.8C1401.2,221.2 1410,221.7 1418.7,221.5C1427.4,221.3 1438.1,220.1 1447.7,219.8C1457.3,219.5 1469.4,219.4 1476.6,219.8C1483.8,220.2 1485.5,219.7 1491.1,222.1C1496.6,224.5 1503.6,233.3 1509.9,234.3C1516.2,235.3 1522.2,229.8 1528.7,227.9C1535.2,226 1540.3,224.6 1549,223C1557.7,221.4 1570.8,220.2 1580.9,218.6C1591,217 1601.4,215.1 1609.8,213.4C1618.2,211.7 1624.7,207.9 1631.5,208.2C1638.3,208.4 1642.4,212.1 1650.4,214.9C1658.4,217.7 1671,221.5 1679.3,225C1687.6,228.5 1693.4,231.7 1700.2,236C1707,240.3 1714.2,245.2 1719.9,251.1C1725.6,257 1730.9,265.6 1734.3,271.3C1737.7,277 1738,279.5 1740.2,285.5C1742.4,291.5 1745.5,299.2 1747.5,307.4C1749.5,315.6 1750.7,325.6 1752.1,334.8C1753.5,344 1755,355.1 1755.8,362.3C1756.6,369.5 1756.8,375.4 1757,378" stroke="#c80404" stroke-width="2.3" fill="none" stroke-linejoin="round" stroke-dasharray="16 5.5"/>
<path d="M1126.5,125.5l5.1,5.1l-5.1,5.1l-5.1,-5.1z" stroke="#c80404" stroke-width="3.1" fill="none"/>
<path d="M1214.4,257.7l5.1,5.1l-5.1,5.1l-5.1,-5.1z" stroke="#c80404" stroke-width="3.1" fill="none"/>
<path d="M1233.2,414.7l5.1,5.1l-5.1,5.1l-5.1,-5.1z" stroke="#c80404" stroke-width="3.1" fill="none"/>
<path d="M1234.5,442.9l5.1,5.1l-5.1,5.1l-5.1,-5.1z" stroke="#c80404" stroke-width="3.1" fill="none"/>
<path d="M1261.9,291.9l5.1,5.1l-5.1,5.1l-5.1,-5.1z" stroke="#c80404" stroke-width="3.1" fill="none"/>
<path d="M1395.4,215.5l5.1,5.1l-5.1,5.1l-5.1,-5.1z" stroke="#c80404" stroke-width="3.1" fill="none"/>
<path d="M1549,217.9l5.1,5.1l-5.1,5.1l-5.1,-5.1z" stroke="#c80404" stroke-width="3.1" fill="none"/>
<path d="M1700.2,230.9l5.1,5.1l-5.1,5.1l-5.1,-5.1z" stroke="#c80404" stroke-width="3.1" fill="none"/>
<path d="M1006.9,76.5C1007.1,77.5 1007.2,79.8 1007.9,82.4C1008.6,85 1009.9,89 1010.9,92.3C1011.9,95.6 1012.6,98.7 1013.9,102.3C1015.2,105.9 1016.8,110.5 1018.8,114.1C1020.8,117.7 1023,121.1 1025.8,124.1C1028.6,127.1 1031.7,130 1035.7,132C1039.7,134 1044,135.1 1049.6,136C1055.2,136.9 1063.1,137.3 1069.4,137.6C1075.7,137.9 1082.1,137.6 1087.4,137.6C1092.7,137.6 1096.6,137.7 1101.2,137.6C1105.8,137.5 1111.4,137.3 1114.9,137.2C1118.4,137.1 1119.9,137.1 1122.4,137.2C1124.9,137.2 1127.8,136 1130,137.5C1132.2,139 1134,143.6 1135.5,146C1137,148.4 1137.7,148.5 1139.1,151.9C1140.5,155.3 1142.3,161.7 1143.7,166.6C1145.1,171.5 1146.2,176.3 1147.4,181.2C1148.6,186.1 1149.9,191.5 1151,195.8C1152.1,200.1 1152.9,202.5 1153.8,206.8C1154.7,211.1 1155.6,216.5 1156.5,221.4C1157.4,226.3 1158.5,231.7 1159.3,236C1160.1,240.3 1160.5,242.7 1161.1,247C1161.7,251.3 1162.2,257.1 1162.7,262C1163.2,266.9 1163.6,270.1 1164.4,276.5C1165.2,282.9 1166.6,291.5 1167.3,300.3C1168,309.1 1168.3,319.2 1168.7,329.2C1169.1,339.1 1169.3,346.2 1169.6,360C1169.8,373.8 1170.1,403.4 1170.2,412.1M1170.2,412.1C1170.3,403.4 1170.7,373.3 1171,360C1171.3,346.7 1171.5,342.1 1171.8,332.1C1172.1,322.2 1172.2,309.5 1173.1,300.3C1174,291.1 1175.2,284.8 1177.4,277.1C1179.6,269.4 1183.6,258.8 1186.1,254C1188.6,249.2 1190,249.9 1192.5,248.2C1195,246.5 1197.3,244.7 1201,243.9C1204.7,243.1 1210.1,242.9 1214.4,243.3C1218.7,243.7 1223.3,245.2 1226.6,246.3C1229.8,247.4 1231.5,248.5 1233.9,250C1236.3,251.5 1238.6,252.8 1241.2,255.5C1243.8,258.2 1247.5,263.4 1249.8,266.5C1252.1,269.6 1252.7,272 1255,274C1257.3,276 1260.5,278.6 1263.6,278.5C1266.7,278.4 1270.3,275.7 1273.7,273.5C1277.1,271.3 1279.9,268.2 1283.7,265.1C1287.5,262 1292.2,257.9 1296.4,254.9C1300.6,251.9 1304.8,249.5 1308.6,247.3C1312.4,245.2 1315.4,243.5 1319.2,242C1323,240.5 1326.8,239.4 1331.4,238.1C1336,236.8 1342.1,235.6 1346.7,234.3C1351.3,233 1355.6,232.2 1358.9,230.5C1362.2,228.8 1364,226.9 1366.5,224.4C1369,221.9 1371.8,219.1 1374.1,215.3C1376.4,211.5 1377.9,205.7 1380.2,201.6C1382.5,197.5 1385.3,193.2 1387.8,190.9C1390.3,188.6 1390.2,186.6 1395.4,187.9C1400.6,189.2 1411.1,195 1418.7,199C1426.3,203 1434,207.9 1441.3,212C1448.5,216.1 1455.3,218.8 1462.2,223.6C1469.1,228.4 1476.6,235.8 1482.4,240.9C1488.2,246 1493,249.9 1496.9,254C1500.8,258.1 1502.7,262.7 1505.6,265.6C1508.5,268.5 1510,272.8 1514.3,271.3C1518.6,269.9 1524.4,262.4 1531.6,256.9C1538.8,251.3 1549.5,243.1 1557.7,238C1565.9,232.9 1571.2,230.8 1580.9,226.5C1590.6,222.2 1606.9,215.6 1615.6,212C1624.3,208.4 1628.7,205.2 1633,204.7C1637.3,204.2 1637.9,205.2 1641.7,209.1C1645.5,213 1649.8,220.4 1656.1,227.9C1662.4,235.4 1672.5,247.2 1679.3,254C1686.1,260.8 1690.8,264.1 1696.7,268.4C1702.6,272.7 1709.2,275.6 1714.6,280C1720,284.4 1724.7,289.1 1729.3,294.6C1733.9,300.1 1739,307.7 1742,312.9C1745,318.1 1745.7,319.6 1747.5,325.7C1749.3,331.8 1751.6,341.9 1753,349.5C1754.4,357.1 1755.2,366.6 1755.8,371.4C1756.4,376.1 1756.5,376.9 1756.7,378" stroke="#1ec8d2" stroke-width="2.2" fill="none" stroke-linejoin="round" stroke-dasharray="16 4.5 2.5 4.5"/>
<rect x="1117.4" y="132.2" width="10" height="10" fill="#1ec8d2"/>
<rect x="1159.4" y="271.5" width="10" height="10" fill="#1ec8d2"/>
<rect x="1165.2" y="390.3" width="10" height="10" fill="#1ec8d2"/>
<rect x="1187.5" y="243.2" width="10" height="10" fill="#1ec8d2"/>
<rect x="1314.2" y="237" width="10" height="10" fill="#1ec8d2"/>
<rect x="1436.3" y="207" width="10" height="10" fill="#1ec8d2"/>
<rect x="1552.7" y="233" width="10" height="10" fill="#1ec8d2"/>
<rect x="1674.3" y="249" width="10" height="10" fill="#1ec8d2"/>
</g>
<rect x="1458" y="31" width="240" height="130" fill="#fff"/>
<path d="M1463,45.6H1496" stroke="#102cec" stroke-width="2.4"/>
<path d="M1471,45.6L1488,45.6M1475.2,38.2L1483.8,53M1483.8,38.2L1475.2,53" stroke="#102cec" stroke-width="3.6" fill="none"/>
<text x="1502.6" y="53.8" font-family="DejaVu Sans, sans-serif" font-size="24.05" fill="#111" stroke="#111" stroke-width="0.45">Da=0.1, Ri=1</text>
<path d="M1463,79.4H1496" stroke="#22aa36" stroke-width="2.5" stroke-dasharray="2.5 3.1"/>
<circle cx="1479.5" cy="79.4" r="5.1" stroke="#22aa36" stroke-width="3.6" fill="none"/>
<text x="1502.6" y="87.6" font-family="DejaVu Sans, sans-serif" font-size="24.05" fill="#111" stroke="#111" stroke-width="0.45">Da=0.01, Ri=1</text>
<path d="M1463,113.2H1496" stroke="#c80404" stroke-width="2.3" stroke-dasharray="16 5.5"/>
<path d="M1479.5,108.1l5.1,5.1l-5.1,5.1l-5.1,-5.1z" stroke="#c80404" stroke-width="3.1" fill="none"/>
<text x="1502.6" y="121.4" font-family="DejaVu Sans, sans-serif" font-size="24.05" fill="#111" stroke="#111" stroke-width="0.45">Da=0.001, Ri=1</text>
<path d="M1463,147H1496" stroke="#1ec8d2" stroke-width="2.2" stroke-dasharray="16 4.5 2.5 4.5" stroke-dashoffset="21"/>
<rect x="1474.5" y="142" width="10" height="10" fill="#1ec8d2"/>
<text x="1502.6" y="155.2" font-family="DejaVu Sans, sans-serif" font-size="24.05" fill="#111" stroke="#111" stroke-width="0.45">Da=1E-5, Ri=1</text>
<path d="M992.9,546.4h8M1770,546.4h-7.5M992.9,536h8M1770,536h-7.5M992.9,527.4h8M1770,527.4h-7.5M992.9,520.2h8M1770,520.2h-7.5M992.9,513.9h8M1770,513.9h-7.5M992.9,508.4h8M1770,508.4h-7.5M992.9,503.5h8M1770,503.5h-7.5M992.9,471h8M1770,471h-7.5M992.9,452.1h8M1770,452.1h-7.5M992.9,438.6h8M1770,438.6h-7.5M992.9,428.2h8M1770,428.2h-7.5M992.9,419.6h8M1770,419.6h-7.5M992.9,412.4h8M1770,412.4h-7.5M992.9,406.1h8M1770,406.1h-7.5M992.9,400.6h8M1770,400.6h-7.5M992.9,395.7h8M1770,395.7h-7.5M992.9,363.2h8M1770,363.2h-7.5M992.9,344.3h8M1770,344.3h-7.5M992.9,330.8h8M1770,330.8h-7.5M992.9,320.4h8M1770,320.4h-7.5M992.9,311.8h8M1770,311.8h-7.5M992.9,304.6h8M1770,304.6h-7.5M992.9,298.3h8M1770,298.3h-7.5M992.9,292.8h8M1770,292.8h-7.5M992.9,287.9h8M1770,287.9h-7.5M992.9,255.4h8M1770,255.4h-7.5M992.9,236.5h8M1770,236.5h-7.5M992.9,223h8M1770,223h-7.5M992.9,212.6h8M1770,212.6h-7.5M992.9,204h8M1770,204h-7.5M992.9,196.8h8M1770,196.8h-7.5M992.9,190.5h8M1770,190.5h-7.5M992.9,185h8M1770,185h-7.5M992.9,180.1h8M1770,180.1h-7.5M992.9,147.6h8M1770,147.6h-7.5M992.9,128.7h8M1770,128.7h-7.5M992.9,115.2h8M1770,115.2h-7.5M992.9,104.8h8M1770,104.8h-7.5M992.9,96.2h8M1770,96.2h-7.5M992.9,89h8M1770,89h-7.5M992.9,82.7h8M1770,82.7h-7.5M992.9,77.2h8M1770,77.2h-7.5M992.9,72.3h8M1770,72.3h-7.5M992.9,39.8h8M1770,39.8h-7.5M992.9,20.9h8M1770,20.9h-7.5M1006.4,559.6v-7.5M1006.4,8.2v7.5M1099,559.6v-7.5M1099,8.2v7.5M1191.7,559.6v-7.5M1191.7,8.2v7.5M1284.3,559.6v-7.5M1284.3,8.2v7.5M1377,559.6v-7.5M1377,8.2v7.5M1469.6,559.6v-7.5M1469.6,8.2v7.5M1562.2,559.6v-7.5M1562.2,8.2v7.5M1654.9,559.6v-7.5M1654.9,8.2v7.5M1747.5,559.6v-7.5M1747.5,8.2v7.5" stroke="#383838" stroke-width="1.6" fill="none"/>
<rect x="992.9" y="8.2" width="777.1" height="551.4" fill="none" stroke="#383838" stroke-width="2"/>
<g font-family="DejaVu Sans, sans-serif" fill="#111" stroke="#111" stroke-width="0.3"><text x="1007.4" y="581.8" text-anchor="middle" font-size="15.5">0</text><text x="1100" y="581.8" text-anchor="middle" font-size="15.5">0.2</text><text x="1192.7" y="581.8" text-anchor="middle" font-size="15.5">0.4</text><text x="1285.3" y="581.8" text-anchor="middle" font-size="15.5">0.6</text><text x="1378" y="581.8" text-anchor="middle" font-size="15.5">0.8</text><text x="1470.6" y="581.8" text-anchor="middle" font-size="15.5">1</text><text x="1563.2" y="581.8" text-anchor="middle" font-size="15.5">1.2</text><text x="1655.9" y="581.8" text-anchor="middle" font-size="15.5">1.4</text><text x="1748.5" y="581.8" text-anchor="middle" font-size="15.5">1.6</text><text x="979.9" y="79" text-anchor="end" font-size="16.5">10</text><text x="987" y="71.3" text-anchor="end" font-size="11.5">1</text><text x="979.9" y="186.8" text-anchor="end" font-size="16.5">10</text><text x="987" y="179.1" text-anchor="end" font-size="11.5">0</text><text x="975.7" y="294.6" text-anchor="end" font-size="16.5">10</text><text x="987" y="286.9" text-anchor="end" font-size="11.5">-1</text><text x="975.7" y="402.4" text-anchor="end" font-size="16.5">10</text><text x="987" y="394.7" text-anchor="end" font-size="11.5">-2</text><text x="975.7" y="510.2" text-anchor="end" font-size="16.5">10</text><text x="987" y="502.5" text-anchor="end" font-size="11.5">-3</text></g>
<text transform="translate(940.5,290.3) rotate(-90)" text-anchor="middle" font-family="DejaVu Sans, sans-serif" font-size="24" fill="#111" stroke="#111" stroke-width="0.4">Local Nussult number,Nus</text>
<text x="1349.5" y="602.9" text-anchor="middle" font-family="DejaVu Sans, sans-serif" font-size="24" fill="#111" stroke="#111" stroke-width="0.3">Y</text>
<circle cx="1382.5" cy="600" r="0.9" fill="#777"/>
<text x="75" y="645.5" font-family="Liberation Sans, sans-serif" font-size="34" textLength="745" lengthAdjust="spacingAndGlyphs" fill="#000" stroke="#000" stroke-width="0.4">Re=200,λ=3 ,φ=0.02,Ha=20,γ=45 ,A=0.1,Da=1e-3</text>
<text x="992.8" y="645.5" font-family="Liberation Sans, sans-serif" font-size="34" textLength="682.7" lengthAdjust="spacingAndGlyphs" fill="#000" stroke="#000" stroke-width="0.4">Re=200,λ=3 ,φ=0.02,Ha=20,γ=45 ,A=0.1,Ri=1</text>
</svg>
</body></html>
